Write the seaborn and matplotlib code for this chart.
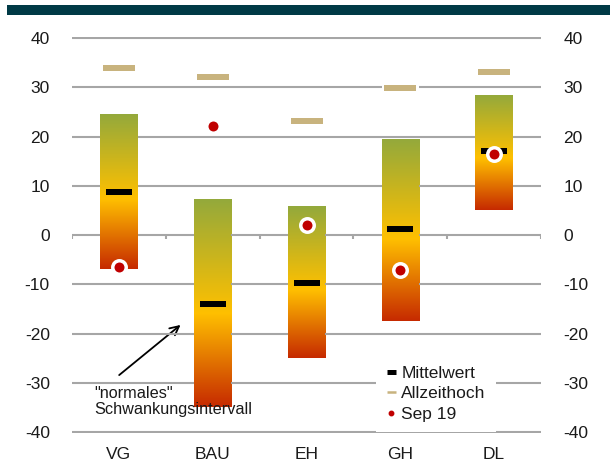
import numpy as np
import pandas as pd
import matplotlib
matplotlib.use("Agg")
import matplotlib.pyplot as plt
from matplotlib.colors import LinearSegmentedColormap
from matplotlib.lines import Line2D
from matplotlib.patches import Rectangle
import seaborn as sns

# Sectors and their indicator ranges
sectors = ["VG", "BAU", "EH", "GH", "DL"]
range_low = [-7.0, -35.0, -25.0, -17.5, 5.0]
range_high = [24.5, 7.3, 5.8, 19.5, 28.5]
mean_value = [8.7, -14.0, -9.7, 1.2, 17.0]
all_time_high = [34.0, 32.1, 23.2, 29.8, 33.1]
sep_19 = [-6.4, 22.1, 2.0, -7.2, 16.5]
y_ticks = [-40, -30, -20, -10, 0, 10, 20, 30, 40]

label_mean = "Mittelwert"
label_ath = "Allzeithoch"
label_sep = "Sep 19"
note_text = '"normales"\nSchwankungsintervall'

GRID = "#a6a6a6"
TAN = "#c8b37e"
RED = "#c00000"
TEXT = "#1a1a1a"
BAR_WIDTH = 0.4

sns.set_theme(style="white")
plt.rcParams["font.family"] = ["Liberation Sans", "DejaVu Sans"]

df = pd.DataFrame({
    "sector": sectors,
    "low": range_low,
    "span": np.array(range_high) - np.array(range_low),
    "mean": mean_value,
    "ath": all_time_high,
    "sep": sep_19,
})

fig = plt.figure(figsize=(6.10, 4.61), dpi=100)
ax = fig.add_axes([0.118, 0.0597, 0.769, 0.861])
ax.set_facecolor("none")

# dark header band
fig.patches.append(Rectangle((0.012, 0.967), 0.988, 0.022, transform=fig.transFigure,
                             facecolor="#003a46", edgecolor="none"))

# floating bars: low .. high
sns.barplot(data=df, x="sector", y="span", order=sectors, bottom=df["low"].to_numpy(),
            width=BAR_WIDTH, errorbar=None, color="white", ax=ax, zorder=2)

grad = LinearSegmentedColormap.from_list(
    "swing", [(0.0, "#c62a00"), (0.45, "#ffc000"), (1.0, "#93a93c")])
g = np.linspace(0, 1, 256).reshape(-1, 1)
for patch in ax.patches:
    x0, w = patch.get_x(), patch.get_width()
    y0, h = patch.get_y(), patch.get_height()
    im = ax.imshow(g, cmap=grad, origin="lower", aspect="auto",
                   extent=(x0, x0 + w, y0, y0 + h), zorder=2)
    im.set_clip_path(patch)
    patch.set_facecolor("none")
    patch.set_edgecolor("none")

# markers
mean_marker = [(-1, -0.25), (1, -0.25), (1, 0.25), (-1, 0.25)]
ath_marker = [(-1, -0.17), (1, -0.17), (1, 0.17), (-1, 0.17)]
sns.stripplot(data=df, x="sector", y="ath", order=sectors, jitter=False,
              marker=ath_marker, size=23.5, color=TAN, linewidth=0, ax=ax, zorder=3)
sns.stripplot(data=df, x="sector", y="mean", order=sectors, jitter=False,
              marker=mean_marker, size=18.7, color="black", linewidth=0, ax=ax, zorder=4)
sns.stripplot(data=df, x="sector", y="sep", order=sectors, jitter=False,
              marker="o", size=9.7, color=RED, edgecolor="white", linewidth=2.5,
              ax=ax, zorder=5)

ax.set_xlim(-0.5, len(sectors) - 0.5)
ax.set_ylim(-40.3, 40.3)
ax.set_yticks(y_ticks)
ax.set_yticklabels([str(t) for t in y_ticks])
ax.grid(False)

# horizontal grid, interrupted wherever a bar or marker sits on the level
half = BAR_WIDTH / 2
seg_y, seg_x0, seg_x1 = [], [], []
for t in y_ticks:
    gaps = []
    for i in range(len(sectors)):
        inside_bar = range_low[i] <= t <= range_high[i]
        on_marker = (abs(t - mean_value[i]) < 0.9 or abs(t - all_time_high[i]) < 0.9
                     or abs(t - sep_19[i]) < 1.9)
        if inside_bar or on_marker:
            gaps.append((i - half, i + half))
    start = -0.5
    for a, b in gaps:
        seg_y.append(t); seg_x0.append(start); seg_x1.append(a)
        start = b
    seg_y.append(t); seg_x0.append(start); seg_x1.append(len(sectors) - 0.5)
ax.hlines(seg_y, seg_x0, seg_x1, colors=GRID, linewidth=1.5, zorder=10)
for s in ax.spines.values():
    s.set_visible(False)

# category boundary ticks on the zero line
bounds = np.arange(len(sectors) + 1) - 0.5
ax.vlines(bounds, -0.8, 0, colors=GRID, linewidth=1.5, zorder=1)

ax.tick_params(axis="y", left=False, right=False, labelleft=True, labelright=True,
               pad=10, labelsize=12.5, labelcolor=TEXT)
ax.tick_params(axis="x", bottom=False, pad=4, labelsize=12.5, labelcolor=TEXT)
ax.set_xlabel("")
ax.set_ylabel("")

# annotation
ax.annotate("", xy=(0.68, -17.9), xytext=(-0.02, -28.8),
            arrowprops=dict(arrowstyle="->", color="black", lw=1.3,
                            mutation_scale=16), zorder=6)
ax.text(-0.26, -33.8, note_text, ha="left", va="center", fontsize=11.7,
        color=TEXT, linespacing=1.12, zorder=6)

handles = [
    Line2D([0], [0], color="black", lw=3.6, solid_capstyle="butt"),
    Line2D([0], [0], color=TAN, lw=1.8, solid_capstyle="butt"),
    Line2D([0], [0], color=RED, lw=0, marker="o", markersize=3.2),
]
leg = ax.legend(handles, [label_mean, label_ath, label_sep], loc="center left",
                bbox_to_anchor=(0.63, 0.10), frameon=True, fontsize=12.5,
                handlelength=0.55, handletextpad=0.3, labelspacing=0.3,
                borderpad=0.6, fancybox=False)
leg.get_frame().set_facecolor("white")
leg.get_frame().set_edgecolor("none")
leg.get_frame().set_alpha(1)
leg.set_zorder(11)
for t in leg.get_texts():
    t.set_color(TEXT)

fig.savefig("out.png", dpi=100, facecolor="white")
